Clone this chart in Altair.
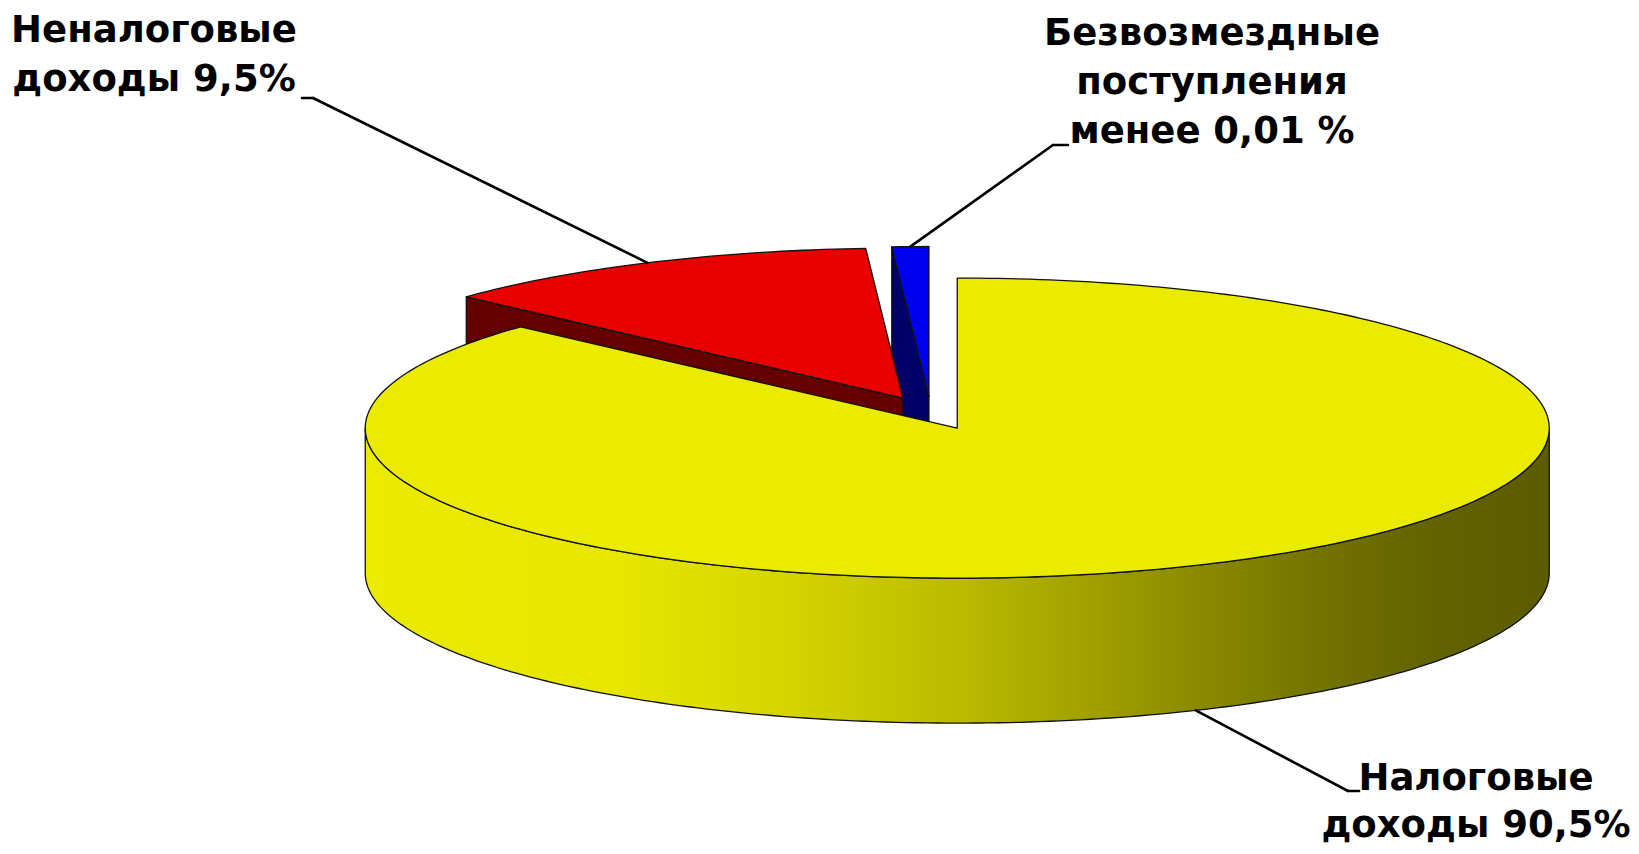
import math
import altair as alt
import pandas as pd

# ---------------- data ----------------
categories = ["Налоговые доходы", "Неналоговые доходы", "Безвозмездные поступления"]
# angular share of each slice as drawn, % (clockwise from 12 o'clock)
shares = [86.8, 12.2, 1.0]
label_lines = [
    ["Налоговые", "доходы 90,5%"],
    ["Неналоговые", "доходы 9,5%"],
    ["Безвозмездные", "поступления", "менее 0,01 %"],
]
top_colors = ["#EBEB00", "#E80000", "#0000F0"]
wall_colors = ["#8A8A00", "#640000", "#000066"]
side_stops = [(0.0, "#EBEB00"), (0.22, "#E6E600"), (0.36, "#D4D400"), (0.5, "#BBBB00"),
              (0.65, "#979700"), (0.8, "#747400"), (0.9, "#636300"), (1.0, "#5C5C00")]

# ---------------- layout (page pixels) ----------------
CX, CY = 931, 413
RX, RY = 592, 150
DEPTH = 145
EXPLODE = 0.11
START = 90.0
label_anchor = [(1476, 790), (154, 42), (1212, 45)]
line_steps = [47, 49, 49]
elbow = [[(1348, 791), (1359, 791)], [(313, 98), (302, 98)], [(1053, 145), (1068, 145)]]
FONT = "DejaVu Sans"
FSIZE = 37


def pt(apex, ang, dz=0.0):
    r = math.radians(ang)
    return [apex[0] + RX * math.cos(r), apex[1] - RY * math.sin(r) + dz]


def arc(apex, a0, a1, dz=0.0):
    n = max(2, int(abs(a1 - a0)) + 1)
    return [pt(apex, a0 + (a1 - a0) * k / (n - 1), dz) for k in range(n)]


def feature(ring):
    ring = ring + [ring[0]]
    return {"type": "Feature", "properties": {}, "geometry": {"type": "Polygon", "coordinates": [ring]}}


def shape_layer(rings, fill):
    return alt.Chart(alt.Data(values=[feature(r) for r in rings])).mark_geoshape(
        fill=fill, stroke="#111111", strokeWidth=1.3, strokeJoin="round"
    )


# slice geometry from the shares
slices = []
a = START
for i, s in enumerate(shares):
    hi = a
    lo = a - s * 3.6
    mid = (hi + lo) / 2
    m = math.radians(mid)
    apex = (CX + EXPLODE * RX * math.cos(m), CY - EXPLODE * RY * math.sin(m))
    slices.append({"i": i, "lo": lo, "hi": hi, "mid": mid, "apex": apex})
    a = lo

# back slices first
order = sorted(slices, key=lambda d: -math.sin(math.radians(d["mid"])))

layers = []
for d in order:
    i, lo, hi, apex = d["i"], d["lo"], d["hi"], d["apex"]
    walls = []
    # radial walls facing the viewer
    for ang, sign in ((hi, 1), (lo, -1)):
        if sign * math.cos(math.radians(ang)) < -1e-6:
            p = pt(apex, ang)
            walls.append([list(apex), p, [p[0], p[1] + DEPTH], [apex[0], apex[1] + DEPTH]])
    if walls:
        layers.append(shape_layer(walls, wall_colors[i]))
    # outer curved wall (front half only)
    outer = []
    for k in range(-2, 2):
        f0, f1 = 180 + 360 * k, 360 + 360 * k
        s0, s1 = max(lo, f0), min(hi, f1)
        if s1 - s0 > 0.1:
            outer.append(arc(apex, s0, s1) + arc(apex, s1, s0, DEPTH))
    if outer:
        if i == 0:
            fill = alt.LinearGradient(
                gradient="linear", x1=0, x2=1, y1=0, y2=0,
                stops=[alt.GradientStop(offset=o, color=c) for o, c in side_stops],
            )
        else:
            fill = wall_colors[i]
        layers.append(shape_layer(outer, fill))
    # top face
    layers.append(shape_layer([[list(apex)] + arc(apex, lo, hi)], top_colors[i]))

# leader lines: from slice arc midpoint to the label elbow
seg_rows = []
for d in slices:
    i = d["i"]
    front = math.sin(math.radians(d["mid"])) < 0
    p = pt(d["apex"], d["mid"], DEPTH if front else 0.0)
    path = [p] + [list(e) for e in elbow[i]]
    for (x1, y1), (x2, y2) in zip(path[:-1], path[1:]):
        seg_rows.append({"x": x1, "y": y1, "x2": x2, "y2": y2})
segs = pd.DataFrame(seg_rows)
rules = alt.Chart(segs).mark_rule(color="#000000", strokeWidth=2.6, strokeCap="round").encode(
    longitude="x:Q", latitude="y:Q", longitude2="x2:Q", latitude2="y2:Q"
)

text_rows = []
for i, lines in enumerate(label_lines):
    ax, ay = label_anchor[i]
    for j, t in enumerate(lines):
        text_rows.append({"x": ax, "y": ay + j * line_steps[i], "t": t})
texts = alt.Chart(pd.DataFrame(text_rows)).mark_text(
    font=FONT, fontWeight="bold", fontSize=FSIZE, align="center", baseline="alphabetic", color="#000000"
).encode(longitude="x:Q", latitude="y:Q", text="t:N")

chart = (
    alt.layer(*layers, rules, texts)
    .project(type="identity", scale=1, translate=[-8, -8])
    .properties(width=1623, height=838, padding=0)
    .configure_view(stroke=None)
)
chart.save("out.html", embed_options={"renderer": "svg", "actions": False})
